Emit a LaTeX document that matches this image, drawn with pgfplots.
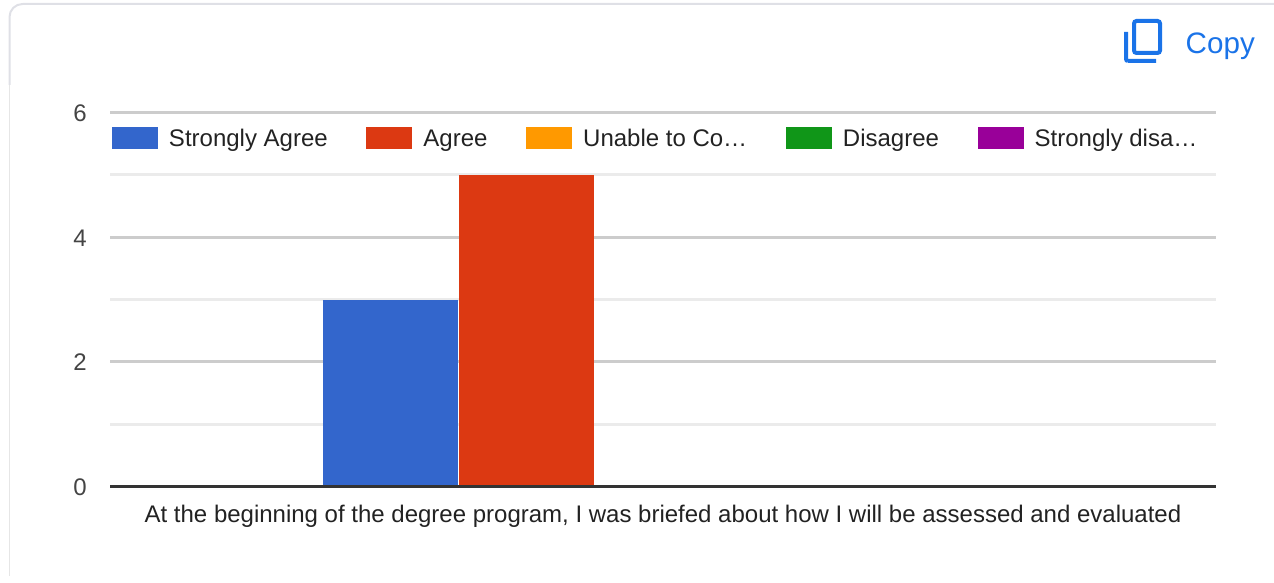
\documentclass[border=0pt]{standalone}
\usepackage{pgfplots}
\usepackage{fontspec}
\setmainfont{Liberation Sans}
\pgfplotsset{compat=1.18}
\definecolor{cblue}{HTML}{3366CC}
\definecolor{cred}{HTML}{DC3912}
\definecolor{corange}{HTML}{FF9900}
\definecolor{cgreen}{HTML}{109618}
\definecolor{cpurple}{HTML}{990099}
\definecolor{clink}{HTML}{1A73E8}
\definecolor{cmajor}{HTML}{CCCCCC}
\definecolor{cminor}{HTML}{EBEBEB}
\definecolor{cbase}{HTML}{333333}
\definecolor{ctick}{HTML}{444444}
\definecolor{ctext}{HTML}{222222}
\definecolor{cborder}{HTML}{DFE0E6}
\definecolor{cborderlow}{HTML}{E6E6E6}
\begin{document}
\begin{tikzpicture}[x=1pt,y=1pt]
\useasboundingbox (0,0) rectangle (1274,583);
% card border
\draw[cborder,line width=2pt] (9.5,498) -- (9.5,566) arc[start angle=180,end angle=90,radius=13] (22.5,579) -- (1274,579);
\draw[cborderlow,line width=1.2pt] (9.5,498) -- (9.5,7);
% copy icon
\draw[clink,line width=4pt,line cap=butt] (1126,551) -- (1126,524) arc[start angle=180,end angle=270,radius=2] (1128,522) -- (1156,522);
\draw[clink,line width=4pt,rounded corners=2.5pt] (1134,530) rectangle (1160,562);
\node[anchor=base west,inner sep=0pt,text=clink,font=\fontsize{29.6}{32}\selectfont] at (1185.5,529.5) {Copy};
\begin{axis}[
  at={(110pt,96.5pt)},anchor=south west,
  scale only axis,width=1106pt,height=373.8pt,
  xmin=-0.5,xmax=0.5,ymin=0,ymax=6,
  clip=false,
  axis x line=bottom,axis y line=left,
  axis line style={-},
  y axis line style={draw=none},
  x axis line style={draw=none},
  ybar=1pt,bar width=135pt,
  xtick={0},xticklabel={At the beginning of the degree program, I was briefed about how I will be assessed and evaluated},
  ytick={0,2,4,6},minor ytick={1,3,5},
  major tick length=0pt,minor tick length=0pt,
  ymajorgrids,yminorgrids,
  major grid style={cmajor,line width=3pt},
  minor grid style={cminor,line width=3pt},
  /pgf/number format/assume math mode=true,
  yticklabel style={font=\fontsize{24}{28}\selectfont,text=ctick,inner sep=0pt,xshift=-23pt,yshift=-0.5pt},
  xticklabel style={font=\fontsize{24}{28}\selectfont,text=ctext,inner sep=0pt,yshift=-18.5pt},
  legend columns=5,
  legend cell align=left,
  legend image code/.code={\fill[#1] (0pt,-10pt) rectangle (46pt,12pt);},
  legend style={
    at={(0.0018,0.9625)},anchor=north west,draw=none,fill=none,inner sep=0pt,outer sep=0pt,
    font=\fontsize{24}{28}\selectfont,text=ctext,
    nodes={inner sep=0pt,outer sep=0pt},
    /tikz/every odd column/.append style={column sep=11pt},
    /tikz/every even column/.append style={column sep=38.7pt},
  },
]
\addplot[fill=cblue,draw=none] coordinates {(0,3)};
\addplot[fill=cred,draw=none] coordinates {(0,5)};
\addplot[fill=corange,draw=none] coordinates {(0,0)};
\addplot[fill=cgreen,draw=none] coordinates {(0,0)};
\addplot[fill=cpurple,draw=none] coordinates {(0,0)};
\addplot[sharp plot,draw=cbase,line width=3pt,forget plot] coordinates {(-0.5,0) (0.5,0)};
\legend{Strongly Agree,Agree,Unable to Co…,Disagree,Strongly disa…}
\end{axis}
\end{tikzpicture}
\end{document}
